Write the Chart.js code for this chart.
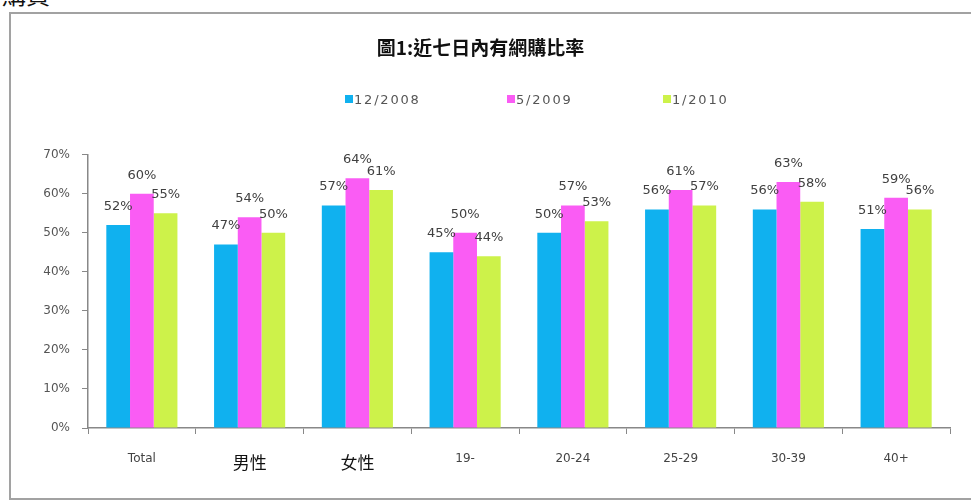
<!DOCTYPE html>
<html>
<head>
<meta charset="utf-8">
<script src="https://cdn.jsdelivr.net/npm/chart.js@4"></script>
<style>
  body { margin: 0; background: #fff; overflow: hidden; width: 971px; height: 502px; position: relative; font-family: "DejaVu Sans", sans-serif; }
  #cut { position: absolute; left: 2px; top: -24px; font-size: 24px; color: #111; font-family: "Noto Sans CJK TC", sans-serif; }
  #frame { position: absolute; left: 9px; top: 12px; width: 1000px; height: 484px; border: 2px solid #a2a2a2; }
  #chart { position: absolute; left: 0; top: 0; }
  #legend { position: absolute; top: 77px; left: 0; height: 18px; }
  .item { position: absolute; top: 0; font-size: 13px; letter-spacing: 1.8px; color: #555; white-space: nowrap; line-height: 18px; }
  .item i { display: inline-block; width: 8px; height: 8px; margin-right: 1px; vertical-align: 1px; }
</style>
</head>
<body>
<div id="cut">購買</div>
<div id="frame">
  <canvas id="chart" width="962" height="484"></canvas>
  <div id="legend"></div>
</div>
<script>
const categories = ['Total', '男性', '女性', '19-', '20-24', '25-29', '30-39', '40+'];
const seriesNames = ['12/2008', '5/2009', '1/2010'];
const dec2008 = [52, 47, 57, 45, 50, 56, 56, 51];
const may2009 = [60, 54, 64, 50, 57, 61, 63, 59];
const jan2010 = [55, 50, 61, 44, 53, 57, 58, 56];
const colors = ['#10b1ef', '#fa5cf4', '#cdf24a'];
const yTicks = [0, 10, 20, 30, 40, 50, 60, 70];

// html legend, spaced like the original
const legendX = [334, 496, 652];
const legend = document.getElementById('legend');
seriesNames.forEach((name, i) => {
    legend.innerHTML += `<div class="item" style="left:${legendX[i]}px"><i style="background:${colors[i]}"></i>${name}</div>`;
});

const barLabels = {
    id: 'barLabels',
    afterDatasetsDraw(chart) {
        const ctx = chart.ctx;
        ctx.save();
        ctx.font = '13px "DejaVu Sans"';
        ctx.fillStyle = '#404040';
        ctx.textAlign = 'center';
        ctx.textBaseline = 'bottom';
        chart.data.datasets.forEach((ds, di) => {
            chart.getDatasetMeta(di).data.forEach((bar, i) => {
                ctx.fillText(ds.data[i] + '%', bar.x, bar.y - 12);
            });
        });
        ctx.restore();
    }
};

new Chart(document.getElementById('chart'), {
    type: 'bar',
    data: {
        labels: categories,
        datasets: [dec2008, may2009, jan2010].map((d, i) => ({
            label: seriesNames[i],
            data: d,
            backgroundColor: colors[i],
            categoryPercentage: 0.66,
            barPercentage: 1.0
        }))
    },
    options: {
        responsive: false,
        animation: false,
        layout: { padding: { left: 0, right: 23, top: 0, bottom: 0 } },
        plugins: {
            legend: { display: false },
            tooltip: { enabled: false },
            title: {
                display: true,
                text: '圖1:近七日內有網購比率',
                color: '#111',
                font: { family: '"Noto Sans CJK TC"', size: 19, weight: 'bold' },
                padding: { top: 22, bottom: 96 }
            }
        },
        scales: {
            x: {
                grid: { display: true, drawOnChartArea: false, offset: true, tickLength: 6, color: '#888' },
                border: { color: '#888', width: 1.5 },
                ticks: {
                    padding: 18,
                    color: (c) => (c.index === 1 || c.index === 2) ? '#111' : '#444',
                    font: (c) => (c.index === 1 || c.index === 2)
                        ? { family: '"Noto Sans CJK TC"', size: 17 }
                        : { family: '"DejaVu Sans"', size: 12 }
                },
                afterFit(scale) { scale.height = 70; }
            },
            y: {
                min: 0,
                max: 70,
                afterBuildTicks(scale) { scale.ticks = yTicks.map(v => ({ value: v })); },
                grid: { display: true, drawOnChartArea: false, tickLength: 6, color: '#888' },
                border: { color: '#888', width: 1.5 },
                ticks: {
                    padding: 12,
                    color: '#555',
                    font: { family: '"DejaVu Sans"', size: 12 },
                    callback: (v) => v + '%'
                },
                afterFit(scale) { scale.width = 77; }
            }
        }
    },
    plugins: [barLabels]
});
</script>
</body>
</html>
